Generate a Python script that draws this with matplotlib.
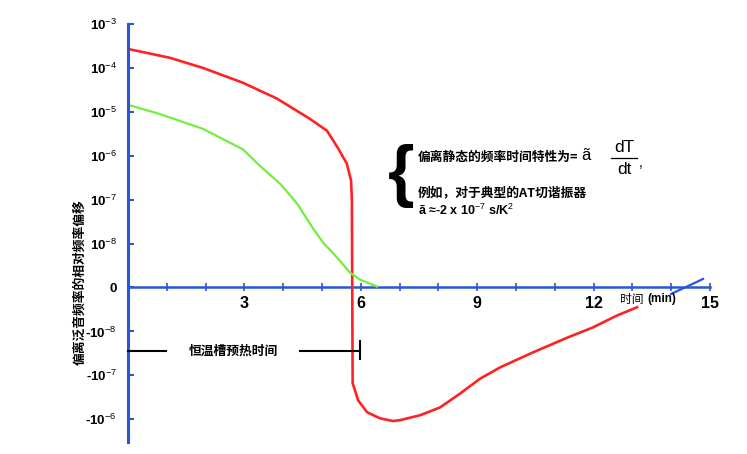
import matplotlib
matplotlib.use("Agg")
import matplotlib.pyplot as plt
from matplotlib.lines import Line2D
from matplotlib.ticker import FixedLocator, FixedFormatter, NullLocator, MultipleLocator

plt.rcParams['mathtext.fontset'] = 'custom'
plt.rcParams['mathtext.rm'] = 'Liberation Sans'
plt.rcParams['mathtext.bf'] = 'Liberation Sans:bold'
plt.rcParams['mathtext.it'] = 'Liberation Sans:italic'
plt.rcParams['font.family'] = ['Liberation Sans', 'Noto Sans CJK SC', 'DejaVu Sans']

# ---- data (time in min, relative frequency offset) ----
red_x = [0, 1.08, 1.93, 2.96, 3.84, 4.69, 5.13, 5.41, 5.64, 5.75, 5.77,
         5.79, 5.93, 6.16, 6.49, 6.83, 7.01, 7.53, 8.04, 8.56, 9.07, 9.59,
         10.44, 11.31, 11.98, 12.60, 13.12]
red_y = [2.7e-4, 1.7e-4, 1.0e-4, 4.6e-5, 2.0e-5, 6.9e-6, 3.7e-6, 1.5e-6,
         6.6e-7, 2.7e-7, 9.5e-8,
         -1.5e-7, -3.7e-7, -6.9e-7, -9.5e-7, -1.1e-6, -1.05e-6, -8.1e-7,
         -5.4e-7, -2.6e-7, -1.2e-7, -6.6e-8, -3.0e-8, -1.4e-8, -9.1e-9,
         -6.4e-9, -4.5e-9]

green_x = [0, 0.82, 1.93, 2.96, 3.40, 3.92, 4.36, 4.77, 5.03, 5.39, 5.72,
           5.98, 6.42]
green_y = [1.45e-5, 8.9e-6, 4.1e-6, 1.4e-6, 5.9e-7, 2.3e-7, 8.1e-8, 2.2e-8,
           1.05e-8, 6.8e-9, 3.4e-9, 1.8e-9, 2e-10]

ytick_values = [1e-3, 1e-4, 1e-5, 1e-6, 1e-7, 1e-8, 0, -1e-8, -1e-7, -1e-6]
ytick_labels = [r'$\mathbf{10}^{\mathrm{-3}}$', r'$\mathbf{10}^{\mathrm{-4}}$',
                r'$\mathbf{10}^{\mathrm{-5}}$', r'$\mathbf{10}^{\mathrm{-6}}$',
                r'$\mathbf{10}^{\mathrm{-7}}$', r'$\mathbf{10}^{\mathrm{-8}}$',
                '0',
                r'-$\mathbf{10}^{\mathrm{-8}}$', r'-$\mathbf{10}^{\mathrm{-7}}$',
                r'-$\mathbf{10}^{\mathrm{-6}}$']
xtick_values = [3, 6, 9, 12, 15]
xtick_labels = ['3', '6', '9', '12', '15']

BLUE = '#2a56d6'
RED = '#ff2222'
GREEN = '#72ee3c'

W, H = 747, 454
fig = plt.figure(figsize=(W / 100, H / 100), dpi=100)
fig.patch.set_facecolor('white')

def fx(px):
    return px / W

def fy(py):
    return 1 - py / H

ax = fig.add_axes([fx(128), fy(442), (710 - 128) / W, (442 - 24) / H])
ax.set_facecolor('none')
ax.set_yscale('symlog', linthresh=1e-8, linscale=0.9)
ax.set_xlim(0, 15)
ax.set_ylim(-3.3e-6, 1e-3)

ax.plot(red_x, red_y, color=RED, lw=1.9, solid_joinstyle='round', zorder=3)
ax.plot(green_x, green_y, color=GREEN, lw=1.6, solid_joinstyle='round', zorder=3)

for s in ['top', 'right']:
    ax.spines[s].set_visible(False)
ax.spines['bottom'].set_position(('data', 0))
ax.spines['left'].set_color(BLUE)
ax.spines['bottom'].set_color(BLUE)
ax.spines['left'].set_linewidth(2.2)
ax.spines['bottom'].set_linewidth(1.8)
ax.spines['left'].set_zorder(4)

ax.yaxis.set_major_locator(FixedLocator(ytick_values))
ax.yaxis.set_major_formatter(FixedFormatter(ytick_labels))
ax.yaxis.set_minor_locator(NullLocator())
ax.tick_params(axis='y', direction='in', length=4, width=1.5, color=BLUE,
               pad=8, labelsize=9.5)
for lab in ax.get_yticklabels():
    lab.set_fontweight('bold')

ax.xaxis.set_major_locator(FixedLocator(xtick_values))
ax.xaxis.set_major_formatter(FixedFormatter(xtick_labels))
ax.xaxis.set_minor_locator(MultipleLocator(1))
ax.tick_params(axis='x', which='both', direction='inout', length=6, width=1.2,
               color=BLUE, pad=3, labelsize=11.5)
for lab in ax.get_xticklabels():
    lab.set_fontweight('bold')

# y label
fig.text(fx(80), fy(282), '偏离泛音频率的相对频率偏移', rotation=90,
         ha='center', va='center', fontsize=9.2, fontweight='bold',
         family=['Noto Sans CJK SC', 'DejaVu Sans'])

# x axis title
fig.text(fx(620), fy(299), '时间', ha='left', va='center', fontsize=8.5,
         family=['Noto Sans CJK SC', 'DejaVu Sans'])
fig.text(fx(647), fy(299), '(min)', ha='left', va='center', fontsize=8.5,
         fontweight='bold', family=['Liberation Sans'])

# axis break mark
fig.add_artist(Line2D([fx(671), fx(703)], [fy(294), fy(279)], color=BLUE, lw=1.6))

# preheat annotation
fig.add_artist(Line2D([fx(128), fx(166)], [fy(351), fy(351)], color='black', lw=1.5))
fig.add_artist(Line2D([fx(300), fx(360)], [fy(351), fy(351)], color='black', lw=1.5))
fig.add_artist(Line2D([fx(360), fx(360)], [fy(341), fy(359)], color='black', lw=1.5))
fig.text(fx(233), fy(351), '恒温槽预热时间', ha='center', va='center', fontsize=9.2,
         fontweight='bold', family=['Noto Sans CJK SC', 'DejaVu Sans'])

# brace and formula
fig.text(fx(401), fy(176), '{', ha='center', va='center', fontsize=49,
         fontweight='bold', family=['Liberation Sans'])
fig.text(fx(418), fy(157), '偏离静态的频率时间特性为=', ha='left', va='center',
         fontsize=9.2, fontweight='bold', family=['Noto Sans CJK SC', 'DejaVu Sans'])
fig.text(fx(586), fy(156), 'ã', ha='center', va='center', fontsize=12,
         family=['Liberation Sans'])
fig.text(fx(624), fy(147), 'dT', ha='center', va='center', fontsize=12.5,
         family=['Liberation Sans'])
fig.add_artist(Line2D([fx(611), fx(637)], [fy(158), fy(158)], color='black', lw=0.9))
fig.text(fx(624), fy(169), 'dt', ha='center', va='center', fontsize=12.5,
         family=['Liberation Sans'])
fig.text(fx(639), fy(163), ',', ha='left', va='center', fontsize=10,
         family=['Liberation Sans'])
fig.text(fx(418), fy(193), '例如，对于典型的AT切谐振器', ha='left', va='center',
         fontsize=9.2, fontweight='bold',
         family=['Noto Sans CJK SC', 'DejaVu Sans'])
fig.text(fx(418), fy(210), r'ã ≈-2 x 10$^{\mathrm{-7}}$ s/K$^{\mathrm{2}}$',
         ha='left', va='center', fontsize=9, fontweight='bold',
         family=['Liberation Sans'])

fig.savefig('out.png', dpi=100, facecolor='white')
